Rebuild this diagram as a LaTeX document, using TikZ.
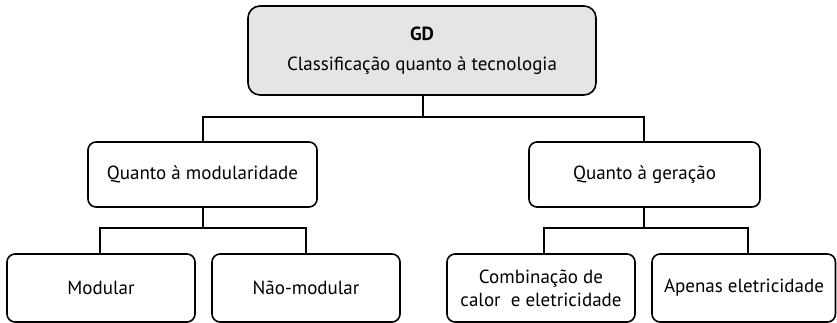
\documentclass[tikz,border=0pt]{standalone}
\usepackage{fontspec}
\setmainfont{PT Sans}
\begin{document}
\begin{tikzpicture}[x=1pt,y=-1pt,
  box/.style={draw=black,line width=1.6pt,rounded corners=8pt},
  conn/.style={draw=black,line width=1.6pt},
  lbl/.style={font=\fontsize{19}{23}\selectfont,align=center}]
\useasboundingbox (0,0) rectangle (837,323);
% top
\draw[box,fill=black!10,rounded corners=12pt] (248,6) rectangle (596,95);
\node[lbl,font=\fontsize{19}{23}\selectfont\bfseries] (gd) at (422,34) {GD};
\node[lbl] (top) at (422,66) {Classificação quanto à tecnologia};
\coordinate (topb) at (423,95);
% level 2
\draw[box] (88,142) rectangle (317,207);
\node[lbl] (mod) at (202.5,174.5) {Quanto à modularidade};
\draw[box] (529,142) rectangle (760,207);
\node[lbl] (ger) at (644.5,174.5) {Quanto à geração};
\coordinate (modt) at (203,142);
\coordinate (gert) at (644,142);
\coordinate (modb) at (203,207);
\coordinate (gerb) at (644,207);
% level 3
\draw[box] (7,254) rectangle (195,322);
\node[lbl] (m1) at (101,288) {Modular};
\draw[box] (212,254) rectangle (400,322);
\node[lbl] (m2) at (306,288) {Não-modular};
\draw[box] (447,254) rectangle (635,322);
\node[lbl] (g1) at (541,288) {Combinação de\\calor\ \ e eletricidade};
\draw[box] (652,254) rectangle (835.5,322);
\node[lbl] (g2) at (744,288) {Apenas eletricidade};
\coordinate (m1t) at (100,254);
\coordinate (m2t) at (306,254);
\coordinate (g1t) at (544,254);
\coordinate (g2t) at (748,254);
% connectors
\draw[conn] (topb) -- (423,117);
\draw[conn] (modt) -- (203,117) -- (644,117) -- (gert);
\draw[conn] (modb) -- (203,228);
\draw[conn] (m1t) -- (100,228) -- (306,228) -- (m2t);
\draw[conn] (gerb) -- (644,228);
\draw[conn] (g1t) -- (544,228) -- (748,228) -- (g2t);
\end{tikzpicture}
\end{document}
